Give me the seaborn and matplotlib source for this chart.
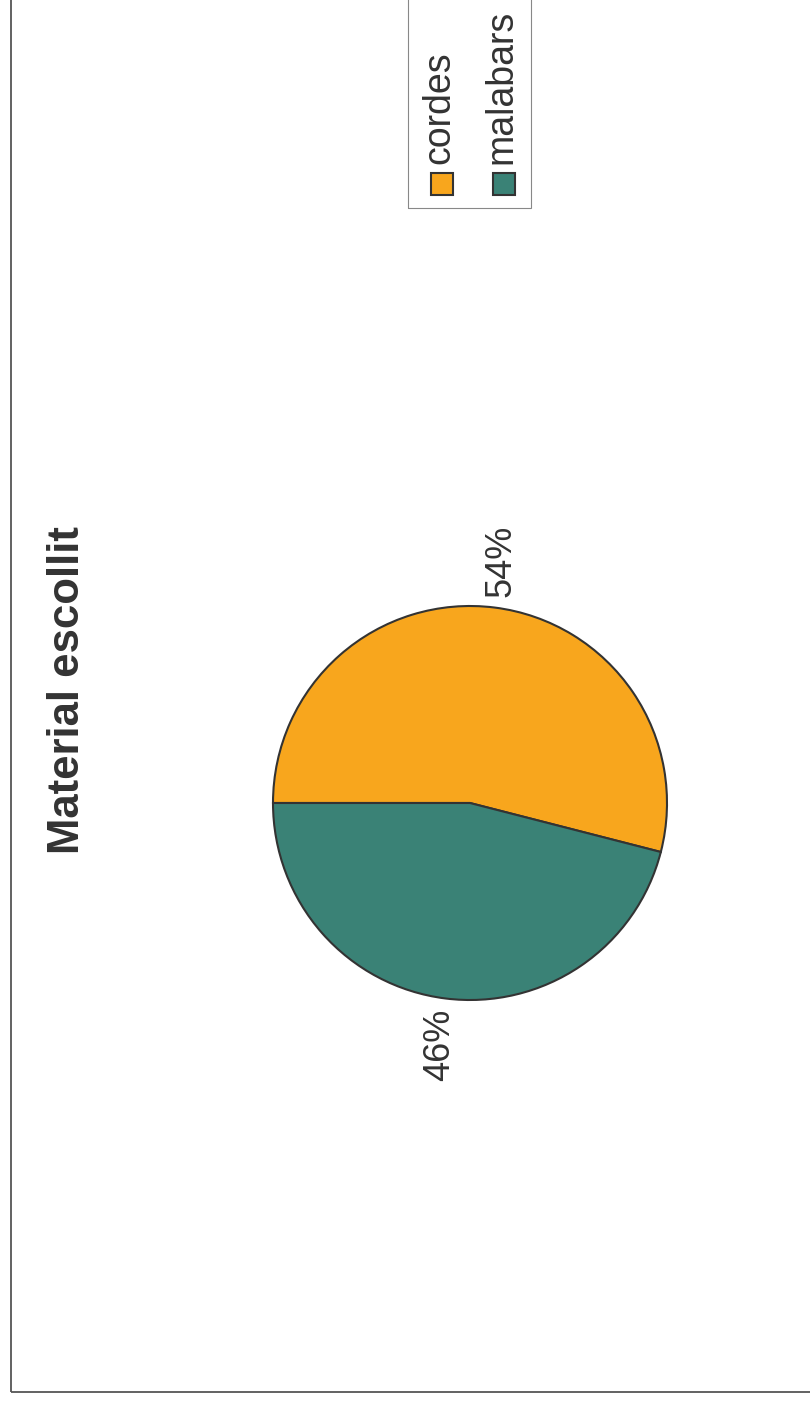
import matplotlib
matplotlib.use("Agg")
import matplotlib.pyplot as plt
from matplotlib.patches import Rectangle
import seaborn as sns

labels = ["cordes", "malabars"]
values = [54, 46]
colors = ["#F8A61D", "#3A8276"]
title = "Material escollit"

sns.set_theme(style="white")
plt.rcParams["font.family"] = ["Liberation Sans", "DejaVu Sans"]
ink = "#333333"

W, H = 810, 1405
fig = plt.figure(figsize=(W / 100, H / 100), dpi=100)
fig.patch.set_facecolor("white")

# outer frame (only left and bottom edges visible in the crop)
fig.add_artist(Rectangle((11 / W, (H - 1392) / H), 1.0, 1.0, transform=fig.transFigure,
                         fill=False, edgecolor="#555555", linewidth=1.3))

# pie, drawn with the whole figure turned 90 degrees
side = 591
ax = fig.add_axes([(470 - side / 2) / W, (H - 803 - side / 2) / H, side / W, side / H])
wedges, texts, autotexts = ax.pie(values, colors=colors, startangle=180, counterclock=False,
                                  autopct="%.0f%%", pctdistance=1.24,
                                  wedgeprops=dict(edgecolor=ink, linewidth=1.5),
                                  textprops=dict(color=ink, fontsize=26))
for t in autotexts:
    t.set_rotation(90)
ax.set_xlim(-1.5, 1.5)
ax.set_ylim(-1.5, 1.5)
ax.set_aspect("equal")
ax.axis("off")

fig.text(68 / W, 1 - 690 / H, title, rotation=90, ha="center", va="center",
         fontsize=31.5, fontweight="bold", color=ink)

# legend, rotated like the rest
fig.add_artist(Rectangle((408 / W, 1 - 208 / H), 123 / W, 0.5, transform=fig.transFigure,
                         fill=False, edgecolor="#888888", linewidth=0.8))
for i, (lab, col) in enumerate(zip(labels, colors)):
    xc = 442 + i * 62
    fig.add_artist(Rectangle(((xc - 11) / W, 1 - 195 / H), 22 / W, 22 / H,
                             transform=fig.transFigure, facecolor=col,
                             edgecolor=ink, linewidth=1.5))
    fig.text((xc - 3) / W, 1 - 164 / H, lab, rotation=90, ha="center", va="bottom",
             fontsize=27, color=ink)

fig.savefig("out.png", dpi=100, facecolor="white")
